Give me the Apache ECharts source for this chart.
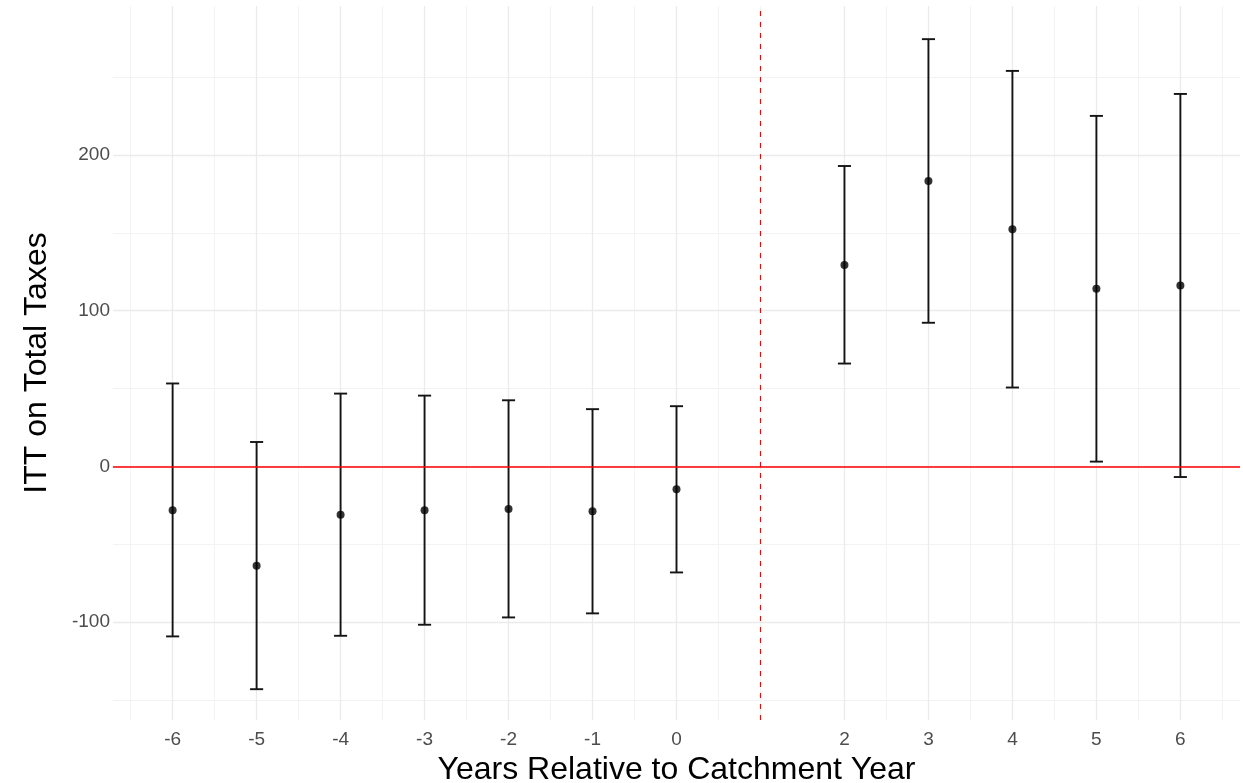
<!DOCTYPE html>
<html>
<head>
<meta charset="utf-8">
<title>ITT on Total Taxes</title>
<script src="https://cdn.jsdelivr.net/npm/echarts@6/dist/echarts.min.js"></script>
<style>
  html, body { margin: 0; padding: 0; background: #ffffff; }
  #chart { width: 1243px; height: 783px; }
</style>
</head>
<body>
<div id="chart"></div>
<script>
// Event-study estimates by year relative to the catchment year
const years    = [-6, -5, -4, -3, -2, -1, 0, 2, 3, 4, 5, 6];
const estimate = [-28.3, -63.9, -31.1, -28.3, -27.4, -28.9, -14.8, 129.3, 183.3, 152.2, 114.0, 116.2];
const ciLow    = [-109.3, -143.2, -108.9, -101.8, -97.1, -94.5, -68.2, 66.0, 92.2, 50.6, 3.0, -6.9];
const ciHigh   = [53.2, 15.6, 46.7, 45.4, 42.4, 36.7, 38.6, 192.9, 274.4, 254.0, 225.1, 239.2];

// Axis breaks
const xTicks      = [-6, -5, -4, -3, -2, -1, 0, 2, 3, 4, 5, 6];
const xMinorTicks = [-6.5, -5.5, -4.5, -3.5, -2.5, -1.5, -0.5, 0.5, 1, 2.5, 3.5, 4.5, 5.5, 6.5];
const yTicks      = [-100, 0, 100, 200];
const yMinorTicks = [-150, -50, 50, 150, 250];

// Reference lines
const treatmentYear = 1;
const zeroLine = 0;

const FONT = '"Liberation Sans", Arial, Helvetica, sans-serif';
const chart = echarts.init(document.getElementById('chart'), null, { renderer: 'canvas' });

function gridLines(values, axisKey, color, width) {
  return values.map(v => ({ [axisKey]: v, lineStyle: { color: color, width: width, type: 'solid' } }));
}

const points = years.map((y, i) => [y, estimate[i], ciLow[i], ciHigh[i]]);

const option = {
  backgroundColor: '#ffffff',
  animation: false,
  grid: { left: 113, right: 3, top: 6, bottom: 63, containLabel: false, outerBoundsMode: 'none' },
  xAxis: {
    type: 'value',
    min: -6.71,
    max: 6.71,
    name: 'Years Relative to Catchment Year',
    nameLocation: 'middle',
    nameGap: 29,
    nameTextStyle: { fontFamily: FONT, fontSize: 32, color: '#000000' },
    axisLine: { show: false },
    axisTick: { show: false },
    splitLine: { show: false },
    axisLabel: {
      customValues: xTicks,
      margin: 10,
      fontFamily: FONT,
      fontSize: 19,
      color: '#4d4d4d',
      formatter: v => String(v)
    }
  },
  yAxis: {
    type: 'value',
    min: -163,
    max: 295.7,
    name: 'ITT on Total Taxes',
    nameLocation: 'middle',
    nameGap: 60,
    nameRotate: 90,
    nameTextStyle: { fontFamily: FONT, fontSize: 32, color: '#000000' },
    axisLine: { show: false },
    axisTick: { show: false },
    splitLine: { show: false },
    axisLabel: {
      customValues: yTicks,
      margin: 3,
      fontFamily: FONT,
      fontSize: 19,
      color: '#4d4d4d',
      formatter: v => String(v)
    }
  },
  series: [
    {
      // panel grid: minor then major lines
      type: 'line',
      data: [],
      z: 1,
      silent: true,
      markLine: {
        z: 1,
        silent: true,
        symbol: ['none', 'none'],
        label: { show: false },
        emphasis: { disabled: true },
        animation: false,
        data: [
          ...gridLines(xMinorTicks, 'xAxis', '#f3f3f3', 1),
          ...gridLines(yMinorTicks, 'yAxis', '#f3f3f3', 1),
          ...gridLines(xTicks, 'xAxis', '#ebebeb', 1.3),
          ...gridLines(yTicks, 'yAxis', '#ebebeb', 1.3)
        ]
      }
    },
    {
      // confidence intervals with end caps
      type: 'custom',
      z: 3,
      silent: true,
      data: points,
      encode: { x: 0, y: [2, 3] },
      renderItem: function (params, api) {
        const x = api.value(0);
        const lo = api.coord([x, api.value(2)]);
        const hi = api.coord([x, api.value(3)]);
        const capHalf = 0.078;
        const capL = api.coord([x - capHalf, 0])[0];
        const capR = api.coord([x + capHalf, 0])[0];
        const style = { stroke: '#141414', lineWidth: 1.9, fill: null };
        return {
          type: 'group',
          children: [
            { type: 'line', shape: { x1: lo[0], y1: lo[1], x2: hi[0], y2: hi[1] }, style: style },
            { type: 'line', shape: { x1: capL, y1: hi[1], x2: capR, y2: hi[1] }, style: style },
            { type: 'line', shape: { x1: capL, y1: lo[1], x2: capR, y2: lo[1] }, style: style }
          ]
        };
      }
    },
    {
      // zero effect and treatment timing
      type: 'line',
      data: [],
      z: 4,
      silent: true,
      markLine: {
        z: 4,
        silent: true,
        symbol: ['none', 'none'],
        label: { show: false },
        emphasis: { disabled: true },
        animation: false,
        data: [
          { yAxis: zeroLine, lineStyle: { color: '#ff0000', width: 1.6, type: 'solid' } },
          { xAxis: treatmentYear, lineStyle: { color: '#ff0000', width: 1.2, type: [5, 6] } }
        ]
      }
    },
    {
      // point estimates
      type: 'scatter',
      z: 5,
      silent: true,
      data: points.map(p => [p[0], p[1]]),
      symbol: 'circle',
      symbolSize: 8,
      itemStyle: { color: '#000000' }
    }
  ]
};

chart.setOption(option);
</script>
</body>
</html>
